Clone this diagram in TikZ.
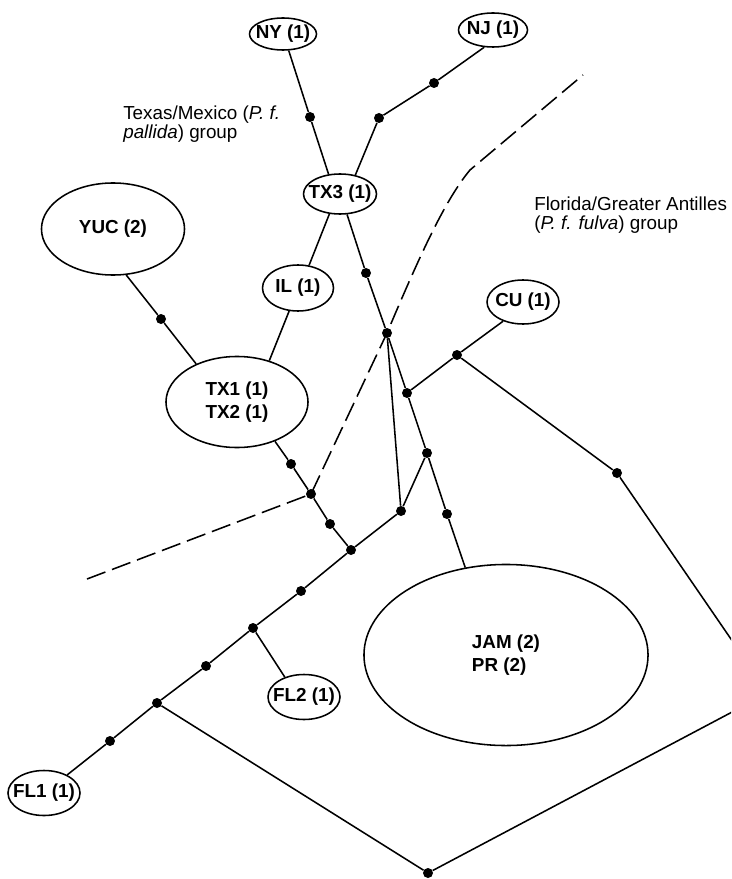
\documentclass[tikz,border=0pt]{standalone}
\usepackage{fontspec}
\setmainfont{Liberation Sans}
\usetikzlibrary{shapes.geometric}
\newcommand{\hapname}[1]{\makebox[0pt]{#1}}
\tikzset{
  hap/.style={
    ellipse, draw, line width=1.1pt, inner sep=0pt, align=center, font=\fontsize{13.4}{16.4}\selectfont\bfseries
  },
  mut/.style={
    circle, fill=black, inner sep=0pt, minimum size=0.25cm
  },
  branch/.style={line width=1.1pt},
  divide/.style={line width=1.1pt, dash pattern=on 14pt off 5pt},
  grouplabel/.style={
    anchor=north west, inner sep=0pt, align=left, font=\fontsize{13.4}{13.9}\selectfont
  }
}
\begin{document}
\begin{tikzpicture}[x=0.025cm, y=-0.025cm]
        \useasboundingbox (0,0) rectangle (731,879);
        \clip (0,0) rectangle (731,879);
        \node[hap, minimum width=1.675cm, minimum height=0.8cm] (NY) at (283,34) {\hapname{NY (1)}};
        \node[hap, minimum width=1.725cm, minimum height=0.85cm] (NJ) at (493,30) {\hapname{NJ (1)}};
        \node[hap, minimum width=1.825cm, minimum height=1cm] (TX3) at (340,194) {\hapname{TX3 (1)}};
        \node[hap, minimum width=1.775cm, minimum height=1.15cm] (IL) at (298,288) {\hapname{IL (1)}};
        \node[hap, minimum width=3.575cm, minimum height=2.3cm] (YUC) at (113,229) {YUC (2)};
        \node[hap, minimum width=3.55cm, minimum height=2.275cm] (TX12) at (237,402) {TX1 (1)\\TX2 (1)};
        \node[hap, minimum width=1.8cm, minimum height=1.1cm] (CU) at (523,302) {\hapname{CU (1)}};
        \node[hap, align=left, minimum width=7.1cm, minimum height=4.525cm] (JAM) at (506,655) {JAM (2)\\PR (2)};
        \node[hap, minimum width=1.8cm, minimum height=1.125cm] (FL1) at (44,793) {\hapname{FL1 (1)}};
        \node[hap, minimum width=1.8cm, minimum height=1.125cm] (FL2) at (304,697) {\hapname{FL2 (1)}};
        \node[grouplabel] (texas) at (123,106) {Texas/Mexico (\textit{P. f.}\\[-1pt]\textit{pallida}) group};
        \node[grouplabel] (florida) at (534,196.5) {Florida/Greater Antilles\\(\textit{P. f. fulva}) group};
        \node[mut] (m1) at (310,117) {};
        \node[mut] (m2) at (434,83) {};
        \node[mut] (m3) at (379,118) {};
        \node[mut] (m4) at (161,319) {};
        \node[mut] (m5) at (291,464) {};
        \node[mut] (m6) at (311,494) {};
        \node[mut] (m7) at (330,524) {};
        \node[mut] (m8) at (351,550) {};
        \node[mut] (m9) at (366,273) {};
        \node[mut] (m10) at (387,333) {};
        \node[mut] (m11) at (407,393) {};
        \node[mut] (m12) at (427,453) {};
        \node[mut] (m13) at (447,514) {};
        \node[mut] (m14) at (457,355) {};
        \node[mut] (m15) at (617,473) {};
        \node[mut] (m16) at (428,873) {};
        \node[mut] (m17) at (157,703) {};
        \node[mut] (m18) at (401,511) {};
        \node[mut] (m19) at (301,591) {};
        \node[mut] (m20) at (253,628) {};
        \node[mut] (m21) at (206,666) {};
        \node[mut] (m22) at (110,741) {};
        \coordinate (rv) at (768,693);
        \coordinate (dw) at (87,579);
        \coordinate (dk) at (470,170);
        \coordinate (de) at (583,75);
        \draw[branch] (NY.-71) -- (m1) -- (TX3.120);
        \draw[branch] (NJ.-117) -- (m2) -- (m3) -- (TX3.51);
        \draw[branch] (TX3.-118) -- (IL.64);
        \draw[branch] (IL.-111) -- (TX12.52);
        \draw[branch] (YUC.-74) -- (m4) -- (TX12.137);
        \draw[branch] (TX12.-46) -- (m5) -- (m6) -- (m7) -- (m8);
        \draw[branch] (TX3.-71) -- (m9) -- (m10) -- (m11) -- (m12) -- (m13) -- (JAM.115);
        \draw[branch] (m11) -- (m14) -- (CU.-136);
        \draw[branch] (m14) -- (m15) -- (rv) -- (m16) -- (m17);
        \draw[branch] (m10) -- (m18);
        \draw[branch] (m12) -- (m18);
        \draw[branch] (m18) -- (m8) -- (m19) -- (m20) -- (m21) -- (m17) -- (m22) -- (FL1.38);
        \draw[branch] (m20) -- (FL2.134);
        \draw[divide] (dw) -- (m6.center) -- (m10.center) .. controls (420,255) and (445,200) .. (dk) -- (de);
    \end{tikzpicture}
\end{document}
